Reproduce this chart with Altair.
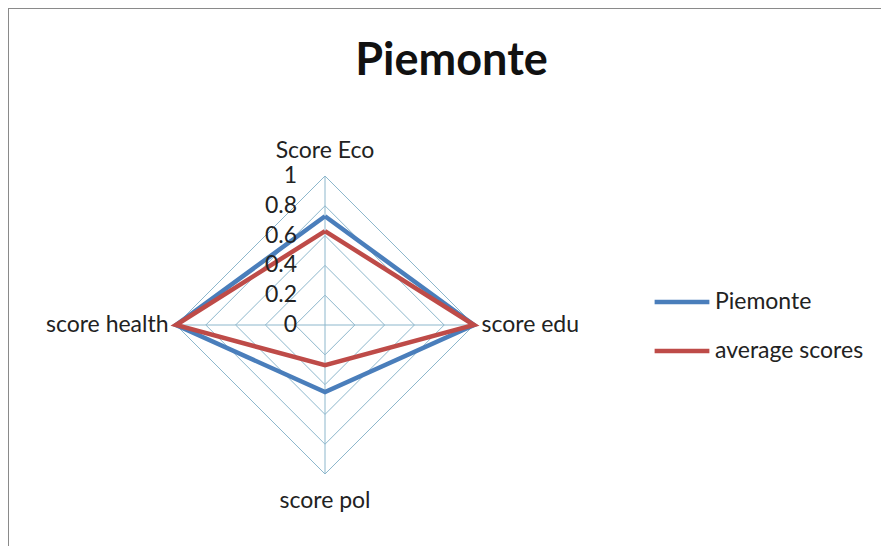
import math
import altair as alt
import pandas as pd

# ---- data ----
axes_labels = ["Score Eco", "score edu", "score pol", "score health"]
series_names = ["Piemonte", "average scores"]
piemonte_vals = [0.73, 1.0, 0.45, 1.0]
average_vals = [0.63, 1.0, 0.27, 1.0]
grid_levels = [0.2, 0.4, 0.6, 0.8, 1.0]
tick_labels = ["0", "0.2", "0.4", "0.6", "0.8", "1"]
tick_values = [0.0, 0.2, 0.4, 0.6, 0.8, 1.0]
title_text = "Piemonte"
colors = ["#4A7EBB", "#BE4B48"]

W, H = 873, 538
R = 149.0
CX, CY = 317.0, 317.0  # center in plot pixels
x0 = -CX / R
x1 = (W - CX) / R
y1 = CY / R
y0 = -(H - CY) / R
xs = alt.Scale(domain=[x0, x1], nice=False, zero=False)
ys = alt.Scale(domain=[y0, y1], nice=False, zero=False)
FONT = "Lato"
FS = 23


def pos(i, r):
    th = math.radians(90 * i)
    return r * math.sin(th), r * math.cos(th)


# series polygons
rows = []
for name, vals in zip(series_names, [piemonte_vals, average_vals]):
    for k in range(len(vals) + 1):
        i = k % len(vals)
        x, y = pos(i, vals[i])
        rows.append({"series": name, "order": k, "x": x, "y": y})
series_df = pd.DataFrame(rows)

# grid diamonds
grid_rows = []
for lv in grid_levels:
    for k in range(5):
        x, y = pos(k % 4, lv)
        grid_rows.append({"level": lv, "order": k, "x": x, "y": y})
grid_df = pd.DataFrame(grid_rows)

# spokes
spoke_rows = []
for i in range(4):
    x, y = pos(i, 1.0)
    spoke_rows.append({"axis": i, "order": 0, "x": 0.0, "y": 0.0})
    spoke_rows.append({"axis": i, "order": 1, "x": x, "y": y})
spoke_df = pd.DataFrame(spoke_rows)

# tick labels along top axis
tick_df = pd.DataFrame({"label": tick_labels, "x": [0.0] * len(tick_values), "y": tick_values})

# category labels
cat_rows = []
offsets = [(0.0, 1.17), (1.05, 0.0), (0.0, -1.18), (-1.05, 0.0)]
aligns = ["center", "left", "center", "right"]
for lab, (ox, oy), al in zip(axes_labels, offsets, aligns):
    cat_rows.append({"label": lab, "x": ox, "y": oy, "align": al})
cat_df = pd.DataFrame(cat_rows)

grid_color = "#8DB7CC"

grid = alt.Chart(grid_df).mark_line(color=grid_color, strokeWidth=1).encode(
    x=alt.X("x:Q", scale=xs, axis=None),
    y=alt.Y("y:Q", scale=ys, axis=None),
    detail="level:N",
    order="order:Q",
)
spokes = alt.Chart(spoke_df).mark_line(color=grid_color, strokeWidth=1).encode(
    x=alt.X("x:Q", scale=xs, axis=None),
    y=alt.Y("y:Q", scale=ys, axis=None),
    detail="axis:N",
    order="order:Q",
)
lines = alt.Chart(series_df).mark_line(strokeWidth=4.5, strokeJoin="miter").encode(
    x=alt.X("x:Q", scale=xs, axis=None),
    y=alt.Y("y:Q", scale=ys, axis=None),
    color=alt.Color(
        "series:N",
        scale=alt.Scale(domain=series_names, range=colors),
        sort=series_names,
        legend=alt.Legend(
            title=None,
            orient="none",
            legendX=644,
            legendY=264,
            symbolType="stroke",
            symbolSize=3000,
            symbolStrokeWidth=4.5,
            labelFontSize=FS,
            labelFont=FONT,
            labelColor="#222222",
            labelOffset=3,
            rowPadding=7,
        ),
    ),
    order="order:Q",
)
ticks = alt.Chart(tick_df).mark_text(
    align="right", baseline="middle", dx=-28, fontSize=FS, font=FONT, color="#222222"
).encode(
    x=alt.X("x:Q", scale=xs, axis=None),
    y=alt.Y("y:Q", scale=ys, axis=None),
    text="label:N",
)
cat_layers = []
for al in ["center", "left", "right"]:
    sub = cat_df[cat_df["align"] == al]
    cat_layers.append(
        alt.Chart(sub).mark_text(
            align=al, baseline="middle", fontSize=FS, font=FONT, color="#222222"
        ).encode(
            x=alt.X("x:Q", scale=xs, axis=None),
            y=alt.Y("y:Q", scale=ys, axis=None),
            text="label:N",
        )
    )

border_left = alt.Chart(pd.DataFrame({"a": [0]})).mark_rule(color="#8A8A8A", strokeWidth=2).encode(
    x=alt.value(0), y=alt.value(0), y2=alt.value(H)
)
border_top = alt.Chart(pd.DataFrame({"a": [0]})).mark_rule(color="#8A8A8A", strokeWidth=2).encode(
    y=alt.value(0), x=alt.value(0), x2=alt.value(W)
)

chart = alt.layer(
    grid, spokes, lines, ticks, *cat_layers, border_left, border_top
).properties(
    width=W,
    height=H,
    title=alt.TitleParams(
        title_text, fontSize=45, font=FONT, fontWeight="bold", color="#111111",
        anchor="middle", orient="top", offset=-77, dx=7,
    ),
    autosize=alt.AutoSizeParams(type="none"),
    padding=0,
).configure_view(stroke=None).configure(background="white")

chart.save("out.html", embed_options={"renderer": "svg", "actions": False})
